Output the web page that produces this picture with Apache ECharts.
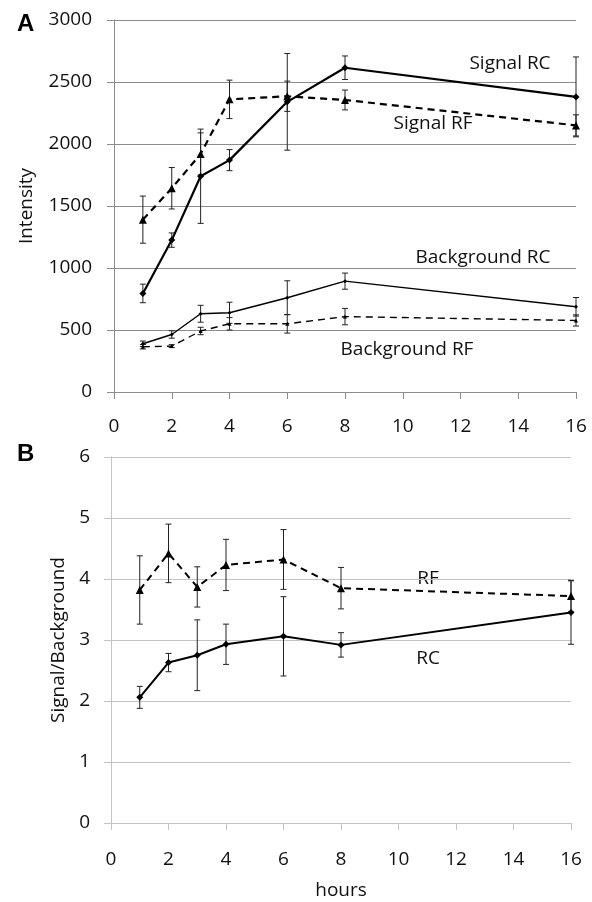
<!DOCTYPE html>
<html>
<head>
<meta charset="utf-8">
<script src="https://cdn.jsdelivr.net/npm/echarts@6/dist/echarts.min.js"></script>
<style>
  html, body { margin: 0; padding: 0; background: #fff; }
  #chart { width: 592px; height: 902px; }
</style>
</head>
<body>
<div id="chart"></div>
<script>
// hours sampled
var hours = [1, 2, 3, 4, 6, 8, 16];

// panel A - intensity
var signalRC = [795, 1225, 1740, 1870, 2340, 2615, 2380];
var signalRCErr = [75, 58, 380, 85, 390, 95, 322];
var signalRF = [1390, 1643, 1920, 2360, 2385, 2355, 2150];
var signalRFErr = [190, 167, 170, 155, 122, 80, 85];
var backgroundRC = [389, 464, 631, 639, 760, 894, 687];
var backgroundRCErr = [22, 30, 68, 85, 137, 65, 75];
var backgroundRF = [365, 370, 492, 550, 550, 608, 577];
var backgroundRFErr = [18, 12, 30, 50, 75, 66, 45];

// panel B - signal / background
var ratioRC = [2.06, 2.63, 2.75, 2.93, 3.06, 2.92, 3.45];
var ratioRCErr = [0.18, 0.15, 0.58, 0.33, 0.65, 0.2, 0.52];
var ratioRF = [3.82, 4.42, 3.87, 4.23, 4.32, 3.85, 3.72];
var ratioRFErr = [0.56, 0.48, 0.33, 0.42, 0.49, 0.34, 0.26];

var FONT = '"Open Sans", "Noto Sans", sans-serif';

function pairs(ys) {
  return hours.map(function (h, i) { return [h, ys[i]]; });
}
function errs(ys, es) {
  return hours.map(function (h, i) { return [h, ys[i] - es[i], ys[i] + es[i]]; });
}

function errorBarItem(params, api) {
  var x = api.value(0);
  var lo = api.coord([x, api.value(1)]);
  var hi = api.coord([x, api.value(2)]);
  var w = 3;
  var st = { stroke: '#222', lineWidth: 1 };
  return {
    type: 'group',
    children: [
      { type: 'line', shape: { x1: hi[0] - w, y1: hi[1], x2: hi[0] + w, y2: hi[1] }, style: st },
      { type: 'line', shape: { x1: lo[0], y1: hi[1], x2: lo[0], y2: lo[1] }, style: st },
      { type: 'line', shape: { x1: lo[0] - w, y1: lo[1], x2: lo[0] + w, y2: lo[1] }, style: st }
    ]
  };
}

function errSeries(data, idx) {
  return {
    type: 'custom',
    xAxisIndex: idx, yAxisIndex: idx,
    renderItem: errorBarItem,
    encode: { x: 0, y: [1, 2] },
    data: data,
    z: 1,
    silent: true
  };
}

function lineSeries(data, idx, dashed, width, symbol, size) {
  return {
    type: 'line',
    xAxisIndex: idx, yAxisIndex: idx,
    data: data,
    symbol: symbol,
    symbolSize: size,
    lineStyle: { color: '#000', width: width, type: dashed ? [7, 5] : 'solid' },
    itemStyle: { color: '#000' },
    z: 3,
    animation: false
  };
}

function xAxis(idx, gridColor, margin, name) {
  return {
    type: 'value', gridIndex: idx,
    min: 0, max: 16, interval: 2,
    name: name || '',
    nameLocation: 'middle',
    nameGap: 58,
    nameTextStyle: { fontFamily: FONT, fontSize: 19, color: '#111' },
    axisLine: { show: true, lineStyle: { color: gridColor, width: 1 } },
    axisTick: { show: true, inside: false, length: 7, lineStyle: { color: gridColor } },
    axisLabel: { fontFamily: FONT, fontSize: 19, color: '#111', margin: margin },
    splitLine: { show: false }
  };
}

function yAxis(idx, max, interval, gridColor, name, gap, margin) {
  return {
    type: 'value', gridIndex: idx,
    min: 0, max: max, interval: interval,
    name: name,
    nameLocation: 'middle',
    nameRotate: 90,
    nameGap: gap,
    nameTextStyle: { fontFamily: FONT, fontSize: 19, color: '#111' },
    axisLine: { show: true, lineStyle: { color: gridColor, width: 1 } },
    axisTick: { show: true, inside: false, length: 7, lineStyle: { color: gridColor } },
    axisLabel: {
      fontFamily: FONT, fontSize: 19, color: '#111', margin: margin,
      formatter: function (v) { return String(v); }
    },
    splitLine: { show: true, lineStyle: { color: gridColor, width: 1 } }
  };
}

function note(text, x, y) {
  return {
    type: 'text', x: x, y: y,
    style: { text: text, fontFamily: FONT, fontSize: 19, fill: '#111', align: 'center', verticalAlign: 'middle' }
  };
}

var chart = echarts.init(document.getElementById('chart'));
chart.setOption({
  animation: false,
  backgroundColor: '#fff',
  grid: [
    { left: 114, top: 20, width: 462, height: 372, outerBoundsMode: 'none', containLabel: false },
    { left: 111, top: 457, width: 460, height: 366, outerBoundsMode: 'none', containLabel: false }
  ],
  xAxis: [
    xAxis(0, '#8c8c8c', 25),
    xAxis(1, '#c4c4c4', 27, 'hours')
  ],
  yAxis: [
    yAxis(0, 3000, 500, '#8c8c8c', 'Intensity', 78, 22),
    yAxis(1, 6, 1, '#c4c4c4', 'Signal/Background', 40, 21)
  ],
  graphic: [
    { type: 'text', left: 17, top: 12, style: { text: 'A', fontFamily: '"Liberation Sans", Arial, sans-serif', fontWeight: 'bold', fontSize: 24, fill: '#000' } },
    { type: 'text', left: 17, top: 442, style: { text: 'B', fontFamily: '"Liberation Sans", Arial, sans-serif', fontWeight: 'bold', fontSize: 24, fill: '#000' } },
    note('Signal RC', 510, 64),
    note('Signal RF', 433, 124),
    note('Background RC', 483, 258),
    note('Background RF', 407, 350),
    note('RF', 428, 579),
    note('RC', 428, 659)
  ],
  series: [
    errSeries(errs(signalRC, signalRCErr), 0),
    errSeries(errs(signalRF, signalRFErr), 0),
    errSeries(errs(backgroundRC, backgroundRCErr), 0),
    errSeries(errs(backgroundRF, backgroundRFErr), 0),
    lineSeries(pairs(signalRC), 0, false, 2.2, 'diamond', 7),
    lineSeries(pairs(signalRF), 0, true, 2.2, 'triangle', 8),
    lineSeries(pairs(backgroundRC), 0, false, 1.4, 'diamond', 4),
    lineSeries(pairs(backgroundRF), 0, true, 1.4, 'triangle', 4),
    errSeries(errs(ratioRC, ratioRCErr), 1),
    errSeries(errs(ratioRF, ratioRFErr), 1),
    lineSeries(pairs(ratioRC), 1, false, 2, 'diamond', 7),
    lineSeries(pairs(ratioRF), 1, true, 2, 'triangle', 8)
  ]
});
</script>
</body>
</html>
